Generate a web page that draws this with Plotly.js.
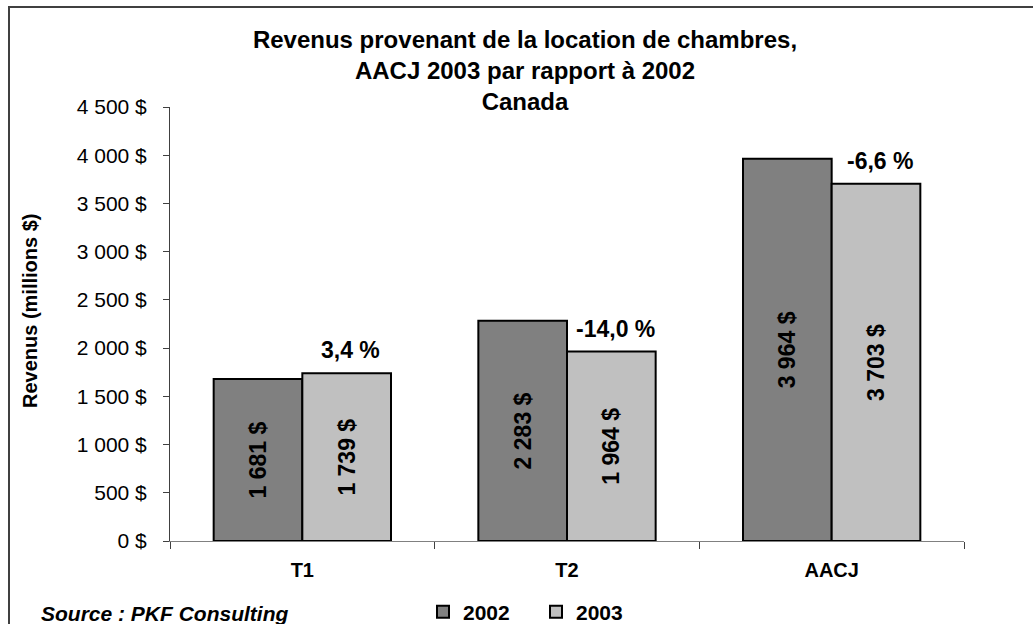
<!DOCTYPE html>
<html>
<head>
<meta charset="utf-8">
<script src="https://cdn.plot.ly/plotly-3.0.1.min.js"></script>
<style>
  html, body { margin: 0; padding: 0; background: #fff; }
  #chart { width: 1033px; height: 624px; }
</style>
</head>
<body>
<div id="chart"></div>
<script>
// ---- data ----
const categories = ['T1', 'T2', 'AACJ'];
const seriesNames = ['2002', '2003'];
const values2002 = [1681, 2283, 3964];
const values2003 = [1739, 1964, 3703];
const changeLabels = ['3,4 %', '-14,0 %', '-6,6 %'];
const titleLines = ['Revenus provenant de la location de chambres,', 'AACJ 2003 par rapport à 2002', 'Canada'];
const yAxisTitle = 'Revenus (millions $)';
const sourceText = 'Source : PKF Consulting';

// ---- styles ----
const FONT = 'Liberation Sans, Arial, sans-serif';
const colors = ['#808080', '#c0c0c0'];
const W = 1033, H = 624;
const M = { l: 170, r: 69, t: 107, b: 83, autoexpand: false };
const plotW = W - M.l - M.r, plotH = H - M.t - M.b;
const px2x = px => (px - M.l) / plotW;
const px2y = py => (H - M.b - py) / plotH;
const bargap = 0.33;
const barOffsetPx = (1 - bargap) / 4 * (plotW / categories.length);

function barTrace(name, vals, color) {
  return {
    type: 'bar',
    name: name,
    x: categories,
    y: vals,
    marker: { color: color, line: { color: '#000', width: 2 } },
    texttemplate: '%{y:,.0f} $',
    textposition: 'inside',
    insidetextanchor: 'middle',
    textangle: -90,
    textfont: { family: FONT, size: 23, color: '#000', weight: 'bold' },
    constraintext: 'none',
    hoverinfo: 'x+y+name'
  };
}

const data = [
  barTrace(seriesNames[0], values2002, colors[0]),
  barTrace(seriesNames[1], values2003, colors[1])
];

const annotations = categories.map((c, i) => ({
  x: c, y: values2003[i], xref: 'x', yref: 'y',
  text: changeLabels[i], showarrow: false,
  xanchor: 'center', yanchor: 'middle',
  xshift: barOffsetPx + 4, yshift: 23,
  font: { family: FONT, size: 23, color: '#000', weight: 'bold' }
}));

annotations.push({
  xref: 'paper', yref: 'paper', x: px2x(30), y: px2y(311),
  text: yAxisTitle, showarrow: false, textangle: -90,
  xanchor: 'center', yanchor: 'middle',
  font: { family: FONT, size: 20, color: '#000', weight: 'bold' }
});
annotations.push({
  xref: 'paper', yref: 'paper', x: px2x(39), y: px2y(613),
  text: sourceText, showarrow: false,
  xanchor: 'left', yanchor: 'middle',
  font: { family: FONT, size: 21, color: '#000', weight: 'bold', style: 'italic' }
});

const layout = {
  width: W, height: H,
  margin: M,
  paper_bgcolor: '#fff', plot_bgcolor: '#fff',
  separators: ', ',
  font: { family: FONT, color: '#000' },
  barmode: 'group',
  bargap: bargap,
  bargroupgap: 0,
  title: {
    text: titleLines.join('<br>'),
    x: 525 / W, xanchor: 'center', xref: 'container',
    y: 1 - 48 / H, yanchor: 'top', yref: 'container',
    font: { family: FONT, size: 24, color: '#000', weight: 'bold' }
  },
  xaxis: {
    type: 'category',
    showline: true, linecolor: '#808080', linewidth: 1,
    ticks: 'outside', tickson: 'boundaries', ticklen: 7, tickcolor: '#404040',
    tickfont: { family: FONT, size: 20, color: '#000', weight: 'bold' },
    ticklabelstandoff: 11,
    automargin: false,
    showgrid: false, zeroline: false, fixedrange: true
  },
  yaxis: {
    range: [0, 4500], dtick: 500, tick0: 0,
    tickformat: ',.0f', ticksuffix: ' $',
    showline: true, linecolor: '#404040', linewidth: 1,
    ticks: 'outside', ticklen: 6, tickcolor: '#404040',
    tickfont: { family: FONT, size: 21, color: '#000' },
    ticklabelstandoff: 12,
    automargin: false,
    showgrid: false, zeroline: false, fixedrange: true
  },
  showlegend: true,
  legend: {
    orientation: 'h',
    x: px2x(423), xanchor: 'left',
    y: px2y(612), yanchor: 'middle',
    font: { family: FONT, size: 21, color: '#000', weight: 'bold' },
    entrywidth: 68, entrywidthmode: 'pixels',
    bgcolor: 'rgba(0,0,0,0)', borderwidth: 0
  },
  annotations: annotations,
  shapes: [{
    type: 'rect', xref: 'paper', yref: 'paper',
    x0: px2x(9), x1: px2x(1045), y0: px2y(640), y1: px2y(7),
    line: { color: '#404040', width: 2 }, fillcolor: 'rgba(0,0,0,0)', layer: 'below'
  }]
};

Plotly.newPlot('chart', data, layout, { displayModeBar: false, staticPlot: true });
</script>
</body>
</html>
